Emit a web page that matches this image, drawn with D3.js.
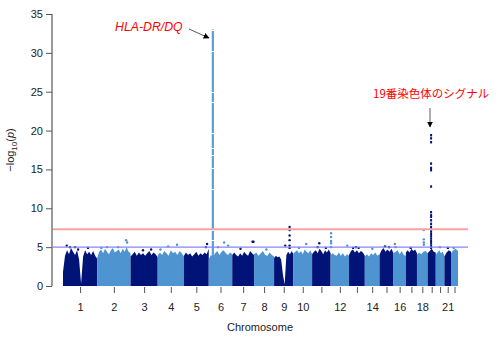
<!DOCTYPE html>
<html>
<head>
<meta charset="utf-8">
<script src="https://cdn.jsdelivr.net/npm/d3@7"></script>
<style>
  body { margin: 0; background: #fff; }
  text { font-family: "Liberation Sans", Arial, sans-serif; }
</style>
</head>
<body>
<script>
// Constants
const width = 499;
const height = 351;

const darkColor = '#001478';
const lightColor = '#4e94d0';

// Chromosome lengths (Mb)
const chromosomes = ['1', '2', '3', '4', '5', '6', '7', '8', '9', '10', '11',
  '12', '13', '14', '15', '16', '17', '18', '19', '20', '21', '22'];
const chromLengths = [249, 243, 198, 191, 181, 171, 159, 146, 141, 136, 135,
  134, 115, 107, 102, 90, 81, 78, 59, 63, 48, 51];
const labelledChroms = ['1', '2', '3', '4', '5', '6', '7', '8', '9', '10',
  '12', '14', '16', '18', '21'];

// Upper edge of the dense point cloud, evenly spaced along each chromosome
const envelopes = [
  [1.8, 3.9, 4.6, 4.1, 4.9, 4.4, 4.0, 4.6, 3.4, 0.3, 3.8, 4.6, 4.1, 4.4, 4.0, 4.5, 3.9, 3.5],
  [3.6, 4.4, 4.7, 4.2, 4.8, 4.4, 4.1, 4.6, 4.9, 4.3, 4.5, 4.7, 4.2, 4.8, 4.4, 5.0, 4.4, 4.2],
  [3.8, 4.1, 4.4, 3.9, 4.3, 4.0, 4.2, 3.9, 4.2, 4.5, 4.0, 4.3, 4.1, 3.7],
  [3.9, 4.3, 4.0, 4.5, 4.2, 3.9, 4.6, 4.2, 4.4, 4.0, 4.5, 4.2, 3.8],
  [3.9, 4.3, 4.0, 4.2, 3.8, 4.1, 4.4, 3.9, 4.2, 4.0, 4.3, 4.1, 4.8],
  [3.4, 4.0, 3.8, 4.2, 4.5, 4.0, 4.4, 4.6, 4.2, 4.0, 4.3, 4.1],
  [4.0, 4.3, 4.0, 3.8, 4.2, 3.9, 4.4, 4.1, 3.9, 4.5, 4.2, 4.0],
  [4.1, 4.3, 3.9, 4.2, 4.5, 4.0, 3.9, 4.3, 4.0, 3.8],
  [3.6, 3.9, 3.7, 3.8, 3.4, 1.5, 0.2, 4.0, 4.4, 4.1, 4.5, 4.1],
  [4.2, 4.4, 4.6, 4.2, 4.5, 4.1, 4.7, 4.4, 4.2, 4.6, 4.1],
  [4.1, 4.4, 4.6, 4.2, 4.8, 4.5, 4.1, 4.6, 4.3, 4.7, 4.2],
  [4.0, 4.2, 4.0, 3.9, 4.3, 3.9, 4.2, 3.8, 4.1, 3.9],
  [4.0, 4.5, 4.7, 4.3, 4.6, 4.2, 4.5, 4.3, 3.9],
  [3.8, 4.1, 3.8, 4.2, 4.0, 4.3, 3.9, 4.1],
  [4.0, 4.6, 4.9, 4.4, 4.7, 4.4, 4.8, 4.2],
  [4.2, 4.4, 4.6, 4.1, 4.5, 4.0, 3.9],
  [4.3, 4.6, 4.3, 4.8, 4.5, 4.7, 4.2],
  [4.0, 4.3, 4.1, 4.4, 4.5, 4.2],
  [4.2, 4.5, 4.8, 4.4, 4.3],
  [4.0, 4.3, 4.6, 4.2, 4.4, 3.9],
  [3.8, 4.3, 4.6, 4.4],
  [4.2, 4.6, 4.8, 4.5],
];

// Individual SNPs standing out above the cloud: chromosome, position (Mb), -log10(p)
const snpChrom = ['1', '1', '1', '1', '1', '2', '2', '2', '2', '2', '3', '3', '4', '4', '4', '5', '5',
  '6', '6', '6', '7', '7', '7', '8', '9', '9', '9', '9', '9', '9', '9', '10', '10', '11', '11', '11',
  '12', '12', '12', '12', '12', '12', '13', '13', '13', '14', '15', '15', '16', '16', '17',
  '18', '18', '18', '18', '20', '21', '22'];
const snpPos = [27, 51, 88, 182, 110, 72, 152, 211, 218, 30, 91, 150, 76, 141, 20, 169, 160,
  68, 112, 141, 148, 155, 60, 90, 113, 113, 113, 113, 113, 113, 81, 93, 40, 52, 40, 100,
  3, 3, 3, 3, 3, 121, 50, 70, 30, 55, 40, 70, 10, 15, 35,
  50, 50, 50, 50, 30, 25, 20];
const snpP = [5.2, 5.0, 5.0, 4.9, 4.7, 5.0, 5.0, 5.9, 5.6, 4.9, 4.6, 4.7, 5.1, 5.3, 4.7, 5.4, 5.0,
  5.0, 5.6, 5.2, 5.7, 5.7, 4.8, 4.7, 7.6, 7.2, 6.5, 5.9, 5.2, 4.9, 5.2, 5.4, 4.9, 5.5, 5.0, 4.9,
  6.8, 6.3, 5.8, 5.5, 5.0, 5.2, 5.0, 4.9, 4.9, 4.8, 5.1, 5.0, 5.4, 5.0, 4.9,
  7.2, 6.0, 5.6, 5.3, 5.0, 4.9, 4.9];

// HLA region peak on chromosome 6: a continuous column of SNPs
const hlaChrom = '6';
const hlaPos = 30;
const hlaTop = 33.0;

// Chromosome 19 signal
const chr19Pos = 25;
const chr19P = [19.4, 19.0, 18.5, 15.75, 15.2, 14.9, 12.8, 9.5, 9.1, 8.9, 8.45,
  8.0, 7.6, 7.3, 7.0, 6.7, 6.4, 6.1, 5.8, 5.5, 5.2, 4.9];

const yTicks = [0, 5, 10, 15, 20, 25, 30, 35];
const genomeWideLine = 7.3;
const suggestiveLine = 5;

const xAxisLabel = 'Chromosome';
const hlaLabel = 'HLA-DR/DQ';
const chr19Label = '19番染色体のシグナル';

// Cumulative chromosome offsets
const offsets = [];
let total = 0;
chromLengths.forEach((len) => { offsets.push(total); total += len; });
const offsetOf = (c) => offsets[chromosomes.indexOf(c)];
const colorOf = (c) => (chromosomes.indexOf(c) % 2 === 0 ? darkColor : lightColor);

// Scales
const xScale = d3.scaleLinear().domain([0, total]).range([63, 458]);
const yScale = d3.scaleLinear().domain([0, 35]).range([286, 14]);

const svg = d3.select('body')
  .append('svg')
  .attr('width', width)
  .attr('height', height);

svg.append('rect')
  .attr('width', width)
  .attr('height', height)
  .attr('fill', '#fff');

// Arrow head
svg.append('defs')
  .append('marker')
  .attr('id', 'arrow')
  .attr('viewBox', '0 0 10 10')
  .attr('refX', 9)
  .attr('refY', 5)
  .attr('markerWidth', 6)
  .attr('markerHeight', 6)
  .attr('markerUnits', 'userSpaceOnUse')
  .attr('orient', 'auto')
  .append('path')
  .attr('d', 'M0,0L10,5L0,10z')
  .attr('fill', '#000');

// Dense point clouds as areas
const area = d3.area()
  .x((d) => xScale(d[0]))
  .y0(yScale(0))
  .y1((d) => yScale(d[1]));

const plot = svg.append('g');

plot.selectAll('.body')
  .data(chromosomes)
  .join('path')
  .attr('class', 'body')
  .attr('fill', (c) => colorOf(c))
  .attr('d', (c, i) => {
    const env = envelopes[i];
    const pts = env.map((v, k) => [offsets[i] + (k / (env.length - 1)) * chromLengths[i], v]);
    return area(pts);
  });

// HLA column
plot.append('line')
  .attr('x1', xScale(offsetOf(hlaChrom) + hlaPos))
  .attr('x2', xScale(offsetOf(hlaChrom) + hlaPos))
  .attr('y1', yScale(0))
  .attr('y2', yScale(hlaTop))
  .attr('stroke', lightColor)
  .attr('stroke-width', 2.2)
  .attr('stroke-opacity', 0.9)
  .attr('stroke-dasharray', '14,1,30,1,9,1,40,1,20,1,12,1,6,1');

// Outlying SNPs
plot.selectAll('.snp')
  .data(snpP)
  .join('circle')
  .attr('class', 'snp')
  .attr('cx', (d, i) => xScale(offsetOf(snpChrom[i]) + snpPos[i]))
  .attr('cy', (d) => yScale(d))
  .attr('r', 1.2)
  .attr('fill', (d, i) => colorOf(snpChrom[i]));

plot.selectAll('.chr19')
  .data(chr19P)
  .join('rect')
  .attr('class', 'chr19')
  .attr('x', xScale(offsetOf('19') + chr19Pos) - 1)
  .attr('y', (d) => yScale(d) - 1.2)
  .attr('width', 2)
  .attr('height', 2.4)
  .attr('fill', darkColor);

// Threshold lines
svg.append('line')
  .attr('x1', 52).attr('x2', 468)
  .attr('y1', yScale(genomeWideLine)).attr('y2', yScale(genomeWideLine))
  .attr('stroke', '#f7a3a3')
  .attr('stroke-width', 1.8);

svg.append('line')
  .attr('x1', 52).attr('x2', 468)
  .attr('y1', yScale(suggestiveLine)).attr('y2', yScale(suggestiveLine))
  .attr('stroke', '#8585ff')
  .attr('stroke-width', 1.3);

// Y axis
const yAxis = d3.axisLeft(yScale)
  .tickValues(yTicks)
  .tickSize(6)
  .tickPadding(3);

const yAxisG = svg.append('g')
  .attr('transform', 'translate(52,0)')
  .call(yAxis);
yAxisG.select('.domain').attr('stroke', '#9a9a9a').attr('stroke-width', 2)
  .attr('d', `M0,${yScale(35)}V${yScale(0)}`);
yAxisG.selectAll('.tick line').attr('stroke', '#555');
yAxisG.selectAll('.tick text')
  .attr('font-size', '11px')
  .attr('fill', '#222')
  .style('font-family', '"Liberation Sans", Arial, sans-serif');

// X axis: one tick per chromosome
const mids = chromosomes.map((c, i) => offsets[i] + chromLengths[i] / 2);
const xAxis = d3.axisBottom(xScale)
  .tickValues(mids)
  .tickSize(6)
  .tickPadding(10)
  .tickFormat((d, i) => (labelledChroms.includes(chromosomes[i]) ? chromosomes[i] : ''));

const xAxisG = svg.append('g')
  .attr('transform', `translate(0,${yScale(0) + 1})`)
  .call(xAxis);
xAxisG.select('.domain').remove();
xAxisG.selectAll('.tick line').attr('stroke', '#555');
xAxisG.selectAll('.tick text')
  .attr('font-size', '11px')
  .attr('fill', '#222')
  .style('font-family', '"Liberation Sans", Arial, sans-serif');

svg.append('text')
  .attr('x', 260)
  .attr('y', 331)
  .attr('text-anchor', 'middle')
  .attr('font-size', '11px')
  .attr('fill', '#222')
  .text(xAxisLabel);

// Y axis label: -log10(p)
const yLabel = svg.append('text')
  .attr('transform', `translate(14,${150}) rotate(-90)`)
  .attr('text-anchor', 'middle')
  .attr('font-size', '11px')
  .attr('fill', '#222');
yLabel.append('tspan').text('\u2212log');
yLabel.append('tspan').attr('font-size', '8px').attr('dy', 3).text('10');
yLabel.append('tspan').attr('dy', -3).text('(');
yLabel.append('tspan').attr('font-style', 'italic').text('p');
yLabel.append('tspan').text(')');

// Annotations
svg.append('text')
  .attr('x', 115)
  .attr('y', 31)
  .attr('font-size', '12.3px')
  .attr('font-style', 'italic')
  .attr('fill', '#ff0000')
  .text(hlaLabel);

svg.append('line')
  .attr('x1', 189).attr('y1', 29)
  .attr('x2', 209).attr('y2', 38)
  .attr('stroke', '#333')
  .attr('stroke-width', 0.8)
  .attr('marker-end', 'url(#arrow)');

svg.append('text')
  .attr('x', 373)
  .attr('y', 98)
  .attr('font-size', '11.5px')
  .attr('fill', '#ff0000')
  .style('font-family', '"Noto Sans CJK JP", sans-serif')
  .text(chr19Label);

svg.append('line')
  .attr('x1', 430).attr('y1', 108)
  .attr('x2', 430).attr('y2', 127)
  .attr('stroke', '#777')
  .attr('stroke-width', 1.2)
  .attr('marker-end', 'url(#arrow)');
</script>
</body>
</html>
